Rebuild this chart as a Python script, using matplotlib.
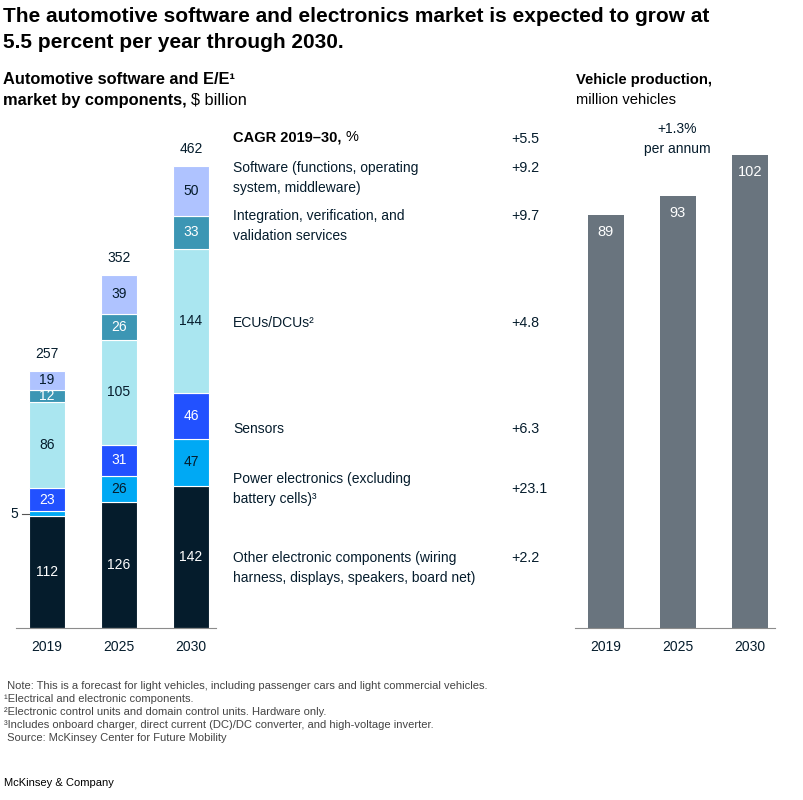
import matplotlib
matplotlib.use("Agg")
import matplotlib.pyplot as plt
import numpy as np

plt.rcParams['font.family'] = ['Liberation Sans', 'DejaVu Sans']

# ---------------- data ----------------
years = ["2019", "2025", "2030"]
segments = ["Other electronic components", "Power electronics", "Sensors",
            "ECUs/DCUs", "Integration services", "Software"]
other = [112, 126, 142]
power = [5, 26, 47]
sensors = [23, 31, 46]
ecus = [86, 105, 144]
integration = [12, 26, 33]
software = [19, 39, 50]
totals = [257, 352, 462]
seg_values = [other, power, sensors, ecus, integration, software]
seg_colors = ["#051c2c", "#00a9f4", "#2251ff", "#aae6f0", "#3c96b4", "#afc3ff"]
seg_text = ["white", "#051c2c", "white", "#051c2c", "white", "#051c2c"]

cagr_labels = ["Software (functions, operating\nsystem, middleware)",
               "Integration, verification, and\nvalidation services",
               "ECUs/DCUs²",
               "Sensors",
               "Power electronics (excluding\nbattery cells)³",
               "Other electronic components (wiring\nharness, displays, speakers, board net)"]
cagr_values = ["+9.2", "+9.7", "+4.8", "+6.3", "+23.1", "+2.2"]
cagr_total = "+5.5"

vehicles = [89, 93, 102]
vehicle_growth = "+1.3%"

# ---------------- figure ----------------
W, H = 804, 800
fig = plt.figure(figsize=(W / 100, H / 100), dpi=100)
renderer = fig.canvas.get_renderer()
TXT = "#051c2c"


def fx(x):
    return x / W


def fy(y):
    return 1 - y / H


def ftext(x, y, s, **kw):
    kw.setdefault("va", "center")
    kw.setdefault("ha", "left")
    kw.setdefault("color", TXT)
    return fig.text(fx(x), fy(y), s, **kw)


def run(x, y, pieces, **kw):
    """Place consecutive text pieces (text, weight) on one line."""
    for s, wgt in pieces:
        t = ftext(x, y, s, fontweight=wgt, **kw)
        bb = t.get_window_extent(renderer=renderer)
        x = bb.x1


# titles
ftext(3, 16, "The automotive software and electronics market is expected to grow at",
      fontsize=15, fontweight="bold", color="black")
ftext(3, 42, "5.5 percent per year through 2030.", fontsize=15, fontweight="bold", color="black")

ftext(3, 79, "Automotive software and E/E¹", fontsize=11.8, fontweight="bold", color="black")
run(3, 100, [("market by components, ", "bold"), ("$ billion", "normal")], fontsize=11.8, color="black")

ftext(576, 80, "Vehicle production,", fontsize=10.6, fontweight="bold", color="black")
ftext(576, 100, "million vehicles", fontsize=10.6, color="black")

# ---------------- left stacked bars ----------------
base_px = 628
top_px = 128
axL_left, axL_right = 16, 216
axL = fig.add_axes([fx(axL_left), fy(base_px), (axL_right - axL_left) / W, (base_px - top_px) / H])
x = np.arange(len(years))
xl0 = (axL_left - 47) / 72
xl1 = xl0 + (axL_right - axL_left) / 72
axL.set_xlim(xl0, xl1)
axL.set_ylim(0, base_px - top_px)
bw = 0.5
bottom = np.zeros(len(years))
for i, (vals, col, tcol) in enumerate(zip(seg_values, seg_colors, seg_text)):
    vals = np.array(vals, dtype=float)
    axL.bar(x, vals, bw, bottom=bottom, color=col, edgecolor="white", linewidth=0.8)
    for j in range(len(years)):
        if vals[j] >= 10:
            axL.text(x[j], bottom[j] + vals[j] / 2, str(int(vals[j])), ha="center", va="center",
                     fontsize=10, color=tcol)
    bottom += vals

for j in range(len(years)):
    axL.annotate(str(totals[j]), (x[j], bottom[j]), xytext=(0, 10), textcoords="offset pixels",
                 ha="center", va="bottom", fontsize=10, color=TXT)
    axL.text(x[j], -12, years[j], ha="center", va="top", fontsize=10, color=TXT)

# small segment label "5"
y5 = other[0] + power[0] / 2
axL.plot([-0.35, -0.25], [y5, y5], color="#555555", lw=0.8, clip_on=False)
axL.text(-0.40, y5, str(power[0]), ha="right", va="center", fontsize=10, color=TXT)

for s in ["top", "right", "left"]:
    axL.spines[s].set_visible(False)
axL.spines["bottom"].set_color("#8c8c8c")
axL.spines["bottom"].set_linewidth(0.8)
axL.set_xticks([])
axL.set_yticks([])

# ---------------- CAGR legend ----------------
run(233, 137, [("CAGR 2019–30, ", "bold"), ("%", "normal")], fontsize=10.5, color="black")
ftext(511, 139, cagr_total, fontsize=10.3)
label_y = [178, 226, 323, 429, 489, 568]
value_y = [168, 216, 323, 429, 489, 558]
for lab, val, ly, vy in zip(cagr_labels, cagr_values, label_y, value_y):
    ftext(233, ly, lab, fontsize=10, linespacing=1.6)
    ftext(511, vy, val, fontsize=10.3)

# ---------------- right bars ----------------
axR_left, axR_right = 575, 775
axR = fig.add_axes([fx(axR_left), fy(base_px), (axR_right - axR_left) / W, (base_px - top_px) / H])
xr0 = (axR_left - 606) / 72
xr1 = xr0 + (axR_right - axR_left) / 72
axR.set_xlim(xr0, xr1)
scale = 4.64
axR.set_ylim(0, (base_px - top_px) / scale)
axR.bar(x, vehicles, bw, color="#69747e")
for j in range(len(years)):
    axR.annotate(str(vehicles[j]), (x[j], vehicles[j]), xytext=(0, -10), textcoords="offset pixels",
                 ha="center", va="top", fontsize=10.5, color="white")
    axR.text(x[j], -12 / scale, years[j], ha="center", va="top", fontsize=10, color=TXT)
for s in ["top", "right", "left"]:
    axR.spines[s].set_visible(False)
axR.spines["bottom"].set_color("#8c8c8c")
axR.spines["bottom"].set_linewidth(0.8)
axR.set_xticks([])
axR.set_yticks([])

ftext(677, 129, vehicle_growth, fontsize=10, ha="center")
ftext(677, 149, "per annum", fontsize=10, ha="center")

# ---------------- footnotes ----------------
notes = [" Note: This is a forecast for light vehicles, including passenger cars and light commercial vehicles.",
         "¹Electrical and electronic components.",
         "²Electronic control units and domain control units. Hardware only.",
         "³Includes onboard charger, direct current (DC)/DC converter, and high-voltage inverter.",
         " Source: McKinsey Center for Future Mobility"]
for k, n in enumerate(notes):
    ftext(4, 686 + 13 * k, n, fontsize=8, color="#444444")

ftext(4, 783, "McKinsey & Company", fontsize=8, color="black")

fig.savefig("out.png", dpi=100)
